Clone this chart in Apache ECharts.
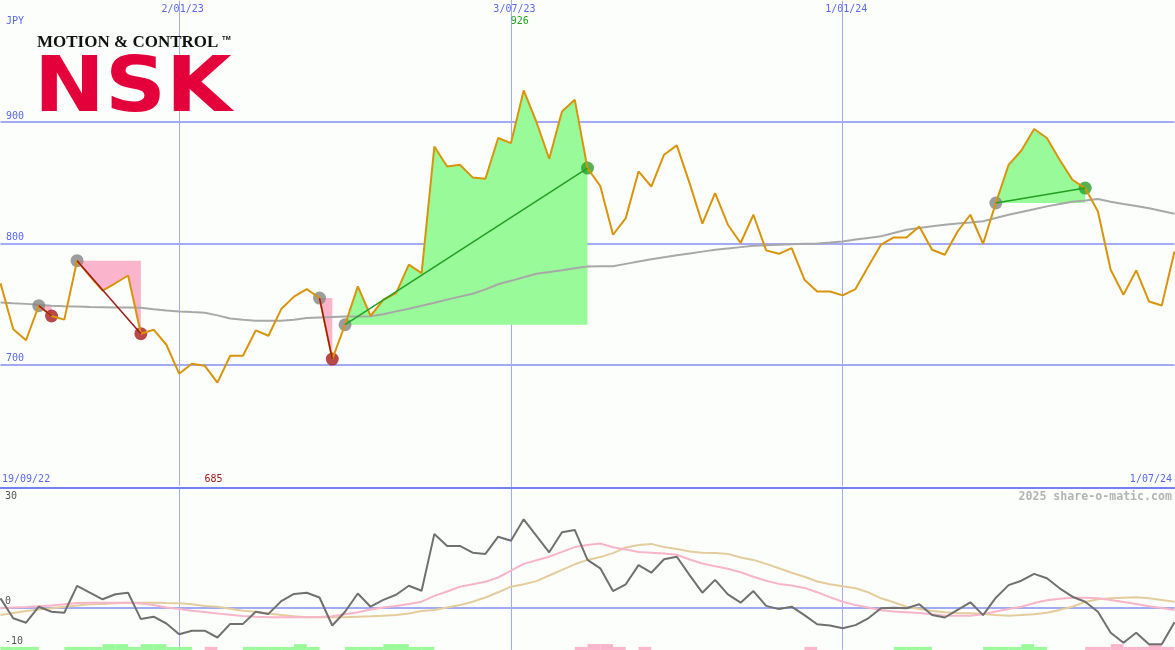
<!DOCTYPE html>
<html><head><meta charset="utf-8">
<script src="https://cdn.jsdelivr.net/npm/echarts@6/dist/echarts.min.js"></script>
<style>html,body{margin:0;padding:0;background:#fcfefc}#c{width:1175px;height:650px}</style>
</head><body><div id="c"></div><script>
// ---------- data ----------
const firstWeek = [2022, 8, 26];   // first weekly point (Monday)
const weekCount = 93;
const tickLabels = ['2/01/23', '3/07/23', '1/01/24'];
const rangeLabels = ['19/09/22', '1/07/24'];
const priceTicks = [700, 800, 900];
const oscTicks = [30, 0, -10];
const currency = 'JPY';
const credit = '2025 share-o-matic.com';

const price = [767, 729, 720, 748.5, 740, 737, 785.6, 773, 761, 767,
  773.4, 725.4, 728.7, 716.3, 692.4, 700.6, 699, 685, 707.2, 707.2,
  728.1, 723.7, 745.7, 756, 762.2, 754.8, 704.5, 732.8, 764.4, 740.2,
  753.4, 758.9, 782.3, 775.4, 879.8, 863.3, 864.7, 854.3, 853.2, 886.8,
  882.6, 926, 900, 869.7, 908.7, 918.4, 862, 847.2, 807, 820.8,
  859.2, 846.8, 873, 880.7, 849.6, 816.1, 841.4, 815.3, 800.2, 823.5,
  794.1, 791.3, 796, 769.9, 760.2, 760.2, 757, 762.2, 780.9, 798.8,
  804.8, 804.8, 813.9, 794.6, 790.5, 809.7, 823.5, 799.6, 833.2, 864.7,
  876.5, 894.2, 886.8, 868.9, 852.4, 845.5, 826.2, 778.1, 757.5, 777.6,
  752, 748.7, 793.2];

const priceMA = [751.2, 750.5, 750, 749.3, 748.5, 748, 747.8, 747.5, 747.3, 747,
  747, 746.8, 745.5, 744.5, 743.8, 743.2, 742.7, 740.5, 738, 737,
  736.1, 736, 736.1, 737, 738.3, 738.8, 739.1, 739.5, 739.6, 739.8,
  741.5, 743.8, 746, 748.5, 750.9, 753.5, 756, 758.4, 762, 766.2,
  769, 772, 774.8, 776.3, 777.7, 779.3, 780.9, 781, 781, 783,
  785, 786.8, 788.5, 790.1, 791.6, 793.1, 794.6, 795.7, 796.8, 797.9,
  798.4, 798.8, 799.1, 799.5, 799.8, 800.6, 801.5, 803, 804.4, 805.8,
  808.5, 811.1, 812.5, 814, 815.3, 816.2, 817.1, 818.1, 820.8, 823.5,
  825.8, 828.1, 830.4, 832.3, 834.2, 835.3, 836.5, 834.2, 832.4, 830.7,
  828.9, 826.6, 824.3];

const oscMain = [2.3, -2.7, -3.8, 0.2, -1.05, -1.3, 5.4, 3.7, 2.05, 3.3,
  3.7, -2.9, -2.3, -4, -6.7, -5.8, -5.8, -7.5, -4.1, -4.1,
  -1.05, -1.6, 1.6, 3.4, 3.7, 2.5, -4.5, -1.05, 3.5, 0.2,
  1.9, 3.2, 5.45, 4.2, 18.4, 15.4, 15.4, 13.7, 13.4, 17.7,
  16.7, 22.05, 17.9, 13.8, 18.8, 19.4, 11.9, 9.8, 4.1, 5.8,
  10.6, 8.7, 12.05, 12.7, 8.1, 3.7, 6.9, 3.3, 1.2, 4.1,
  0.4, -0.4, 0.2, -1.9, -4.2, -4.5, -5.2, -4.4, -2.7, -0.2,
  -0.05, -0.2, 0.8, -1.9, -2.5, -0.6, 1.3, -1.9, 2.45, 5.6,
  6.7, 8.4, 7.3, 4.8, 2.7, 1.45, -1.05, -6.3, -8.8, -6.3,
  -9.2, -9.2, -3.7];

const oscFast = [-0.2, 0, 0.1, 0.3, 0.5, 0.8, 1.1, 1.2, 1.2, 1.2,
  1.2, 1.0, 0.6, 0.0, -0.4, -0.8, -1.1, -1.5, -1.8, -2.1,
  -2.3, -2.45, -2.45, -2.45, -2.45, -2.4, -2.2, -1.7, -1.2, -0.5,
  0, 0.4, 0.9, 1.45, 2.9, 4.0, 5.2, 5.8, 6.45, 7.5,
  9.2, 10.9, 11.8, 12.7, 13.9, 15.1, 15.6, 16.0, 15.05, 14.5,
  13.9, 13.7, 13.5, 13.2, 12.0, 11.0, 10.3, 9.7, 8.8, 7.7,
  6.7, 5.9, 5.5, 4.9, 3.8, 2.6, 1.45, 0.6, 0.0, -0.7,
  -1.0, -1.2, -1.4, -1.7, -2.05, -2.05, -2.05, -1.7, -1.0, -0.4,
  0.2, 1.1, 1.8, 2.2, 2.45, 2.45, 2.3, 1.9, 1.4, 0.9,
  0.3, -0.1, -0.6];

const oscSlow = [-1.9, -1.4, -0.9, -0.5, -0.2, 0.2, 0.5, 0.8, 0.9, 1.05,
  1.2, 1.2, 1.2, 1.1, 1.05, 0.8, 0.4, 0.2, -0.3, -0.8,
  -1.05, -1.5, -1.9, -2.2, -2.45, -2.45, -2.45, -2.45, -2.3, -2.2,
  -2.05, -1.9, -1.5, -0.9, -0.6, 0, 0.6, 1.45, 2.5, 3.8,
  5.2, 5.8, 6.6, 8.0, 9.4, 10.8, 11.9, 12.6, 13.6, 15.0,
  15.6, 15.9, 15.1, 14.6, 14.0, 13.7, 13.6, 13.4, 12.5, 11.9,
  10.9, 9.8, 8.7, 7.7, 6.5, 5.8, 5.3, 4.8, 3.8, 2.3,
  1.3, 0.2, -0.4, -0.9, -1.2, -1.35, -1.45, -1.6, -1.9, -2.05,
  -1.9, -1.7, -1.3, -0.6, 0.2, 1.4, 2.05, 2.3, 2.45, 2.55,
  2.3, 1.9, 1.45];

// strip state: +green / -pink, 1 = low block, 2 = high block
const strip = [1, 1, 1, 0, 0, 1, 1, 1, 2, 2,
  1, 2, 2, 1, 1, 0, -1, 0, 0, 1,
  1, 1, 1, 2, 1, 0, 0, 1, 1, 1,
  2, 2, 1, 1, 0, 0, 0, 0, 0, 0,
  0, 0, 0, 0, 0, -1, -2, -2, -1, 0,
  -1, 0, 0, 0, 0, 0, 0, 0, 0, 0,
  0, 0, 0, -1, 0, 0, 0, 0, 0, 0,
  1, 1, 1, 0, 0, 0, 0, 1, 1, 1,
  2, 1, 0, 0, 0, -1, -1, -2, -1, -1,
  -2, -1, 0];

const signalStart = [3, 6, 25, 27, 78];
const signalEnd = [4, 11, 26, 46, 85];
const signalKind = ['sell', 'sell', 'sell', 'buy', 'buy'];

// ---------- categories ----------
const weeks = [];
for (let k = 0; k < weekCount; k++) {
  const d = new Date(firstWeek[0], firstWeek[1], firstWeek[2] + 7 * k);
  weeks.push(d.getDate() + '/' + String(d.getMonth() + 1).padStart(2, '0') + '/' + String(d.getFullYear() % 100).padStart(2, '0'));
}

const BLUE_TXT = '#5a68f0', GRID = '#a3acf2', DIV = '#7282f0';
const C = { price: '#d8940a', ma: '#a8a8a8', main: '#707070', fast: '#f8b4c8', slow: '#e4cc9c',
  pinkFill: '#fab4cc', greenFill: '#98fa98', sellLine: '#a01818', buyLine: '#22a022',
  dotStart: '#858585', dotSell: '#a51c1c', dotBuy: '#28a028' };

const chart = echarts.init(document.getElementById('c'), null, { renderer: 'canvas' });
const isTick = (i, v) => tickLabels.indexOf(v) >= 0;

const option = {
  animation: false,
  backgroundColor: '#fcfefc',
  grid: [
    { left: 0.5, width: 1174, top: 0.75, height: 485 },
    { left: 0.5, width: 1174, top: 487.5, height: 162.4 }
  ],
  xAxis: [
    { type: 'category', gridIndex: 0, data: weeks, boundaryGap: false,
      axisLine: { show: false }, axisTick: { show: false }, axisLabel: { show: false },
      splitLine: { show: true, interval: isTick, lineStyle: { color: GRID, width: 1 } } },
    { type: 'category', gridIndex: 1, data: weeks, boundaryGap: false, position: 'top',
      axisLine: { show: true, onZero: false, lineStyle: { color: DIV, width: 2 } },
      axisTick: { show: false }, axisLabel: { show: false },
      splitLine: { show: true, interval: isTick, lineStyle: { color: GRID, width: 1 } } }
  ],
  yAxis: [
    { type: 'value', gridIndex: 0, min: 600, max: 1000, interval: 100,
      axisLine: { show: false }, axisTick: { show: false }, axisLabel: { show: false },
      splitLine: { show: true, showMinLine: false, showMaxLine: false, lineStyle: { color: GRID, width: 2 } } },
    { type: 'value', gridIndex: 1, min: -10.6, max: 30,
      axisLine: { show: false }, axisTick: { show: false }, axisLabel: { show: false },
      splitLine: { show: false } }
  ],
  series: [
    { type: 'custom', xAxisIndex: 0, yAxisIndex: 0, z: 1, clip: true,
      data: signalStart.map((s, i) => [s, price[s], i]),
      renderItem: (params, api) => {
        const i = api.value(2), s = signalStart[i], e = signalEnd[i], level = price[s];
        const pts = [api.coord([s, level])];
        for (let k = s; k <= e; k++) pts.push(api.coord([k, price[k]]));
        pts.push(api.coord([e, level]));
        return { type: 'polygon', shape: { points: pts },
          style: { fill: signalKind[i] === 'buy' ? C.greenFill : C.pinkFill } };
      } },
    { type: 'line', name: 'MA', xAxisIndex: 0, yAxisIndex: 0, z: 2, data: priceMA,
      symbol: 'none', lineStyle: { color: C.ma, width: 2 } },
    { type: 'scatter', xAxisIndex: 0, yAxisIndex: 0, z: 3, symbolSize: 13,
      data: signalStart.map(s => [s, price[s]]), itemStyle: { color: C.dotStart } },
    { type: 'scatter', xAxisIndex: 0, yAxisIndex: 0, z: 3, symbolSize: 13,
      data: signalEnd.filter((e, i) => signalKind[i] === 'sell').map(e => [e, price[e]]), itemStyle: { color: C.dotSell } },
    { type: 'scatter', xAxisIndex: 0, yAxisIndex: 0, z: 3, symbolSize: 13,
      data: signalEnd.filter((e, i) => signalKind[i] === 'buy').map(e => [e, price[e]]), itemStyle: { color: C.dotBuy } },
    { type: 'line', name: 'Price', xAxisIndex: 0, yAxisIndex: 0, z: 5, data: price,
      symbol: 'none', lineStyle: { color: C.price, width: 2 } },
    { type: 'custom', xAxisIndex: 0, yAxisIndex: 0, z: 6,
      data: signalStart.map((s, i) => [s, price[s], i]),
      renderItem: (params, api) => {
        const i = api.value(2), s = signalStart[i], e = signalEnd[i];
        const a = api.coord([s, price[s]]), b = api.coord([e, price[e]]);
        return { type: 'line', shape: { x1: a[0], y1: a[1], x2: b[0], y2: b[1] },
          style: { stroke: signalKind[i] === 'buy' ? C.buyLine : C.sellLine, lineWidth: 1.5 } };
      } },
    // oscillator panel
    { type: 'custom', xAxisIndex: 1, yAxisIndex: 1, z: 1,
      data: strip.map((v, k) => [k, v]),
      renderItem: (params, api) => {
        const k = api.value(0), v = api.value(1);
        if (!v) return null;
        const h = Math.abs(v) === 2 ? 1.45 : 0.75;
        const a = api.coord([k, -10.6]), b = api.coord([k + 1, -10.6 + h]);
        return { type: 'rect', shape: { x: a[0], y: b[1], width: b[0] - a[0], height: a[1] - b[1] },
          style: { fill: v > 0 ? C.greenFill : C.pinkFill } };
      } },
    { type: 'line', name: 'Slow', xAxisIndex: 1, yAxisIndex: 1, z: 3, data: oscSlow,
      symbol: 'none', lineStyle: { color: C.slow, width: 2 },
      markLine: { silent: true, symbol: 'none', label: { show: false }, z: 1,
        lineStyle: { color: GRID, width: 2, type: 'solid' }, data: [{ yAxis: 0 }] } },
    { type: 'line', name: 'Fast', xAxisIndex: 1, yAxisIndex: 1, z: 3, data: oscFast,
      symbol: 'none', lineStyle: { color: C.fast, width: 2 } },
    { type: 'line', name: 'Main', xAxisIndex: 1, yAxisIndex: 1, z: 4, data: oscMain,
      symbol: 'none', lineStyle: { color: C.main, width: 2 } }
  ]
};
chart.setOption(option);

// ---------- texts placed through the chart's own scales ----------
const P = (k, v) => chart.convertToPixel({ xAxisIndex: 0, yAxisIndex: 0 }, [k, v]);
const O = (k, v) => chart.convertToPixel({ xAxisIndex: 1, yAxisIndex: 1 }, [k, v]);
const MONO = '10px "DejaVu Sans Mono"';
function txt(x, y, text, fill, font, align, valign, extra) {
  return Object.assign({ type: 'text', x: x, y: y, silent: true, z: 100,
    style: { text: text, fill: fill, font: font, align: align, textAlign: align,
      verticalAlign: valign, textVerticalAlign: valign } }, extra || {});
}
const g = [];
// wider mid-year divider line
const midX = P(weeks.indexOf(tickLabels[1]), 1000)[0];
g.push({ type: 'line', z: 0, silent: true, shape: { x1: midX + 0.5, y1: 0, x2: midX + 0.5, y2: 650 },
  style: { stroke: GRID, lineWidth: 1 } });
tickLabels.forEach(t => { const p = P(weeks.indexOf(t), 1000); g.push(txt(p[0] + 3.5, 9, t, BLUE_TXT, MONO, 'center', 'middle')); });
g.push(txt(6, 21, currency, BLUE_TXT, MONO, 'left', 'middle'));
priceTicks.forEach(v => { const p = P(0, v); g.push(txt(6, p[1] - 1, String(v), BLUE_TXT, MONO, 'left', 'bottom')); });
const divY = O(0, 30)[1];
g.push(txt(2, divY - 8, rangeLabels[0], BLUE_TXT, MONO, 'left', 'middle'));
g.push(txt(1172, divY - 8, rangeLabels[1], BLUE_TXT, MONO, 'right', 'middle'));
// min / max price labels
const maxV = Math.max(...price), minV = Math.min(...price);
const kMax = price.indexOf(maxV), kMin = price.indexOf(minV);
g.push(txt(P(kMax, maxV)[0] - 4, 21, String(Math.round(maxV)), '#22a022', MONO, 'center', 'middle'));
g.push(txt(P(kMin, minV)[0] - 4, divY - 8, String(Math.round(minV)), '#a01818', MONO, 'center', 'middle'));
// oscillator labels
oscTicks.forEach(v => {
  const y = O(0, v)[1];
  if (v === oscTicks[0]) g.push(txt(5, y + 4, String(v), '#555555', MONO, 'left', 'top'));
  else g.push(txt(5, y - 1, String(v), '#555555', MONO, 'left', 'bottom'));
});
g.push(txt(1172, divY + 9, credit, '#b4b4b4', 'bold 11.6px "DejaVu Sans Mono"', 'right', 'middle'));
// logo
g.push(txt(37, 42.5, 'MOTION & CONTROL', '#111111', 'bold 17px "Liberation Serif"', 'left', 'middle'));
g.push(txt(222, 38, 'TM', '#111111', 'bold 6px "Liberation Sans"', 'left', 'middle'));
g.push(txt(34, 90.5, 'NSK', '#e4003a', 'bold 77px "DejaVu Sans"', 'left', 'middle', { scaleX: 1.1 }));
chart.setOption({ graphic: { elements: g } });
</script></body></html>
